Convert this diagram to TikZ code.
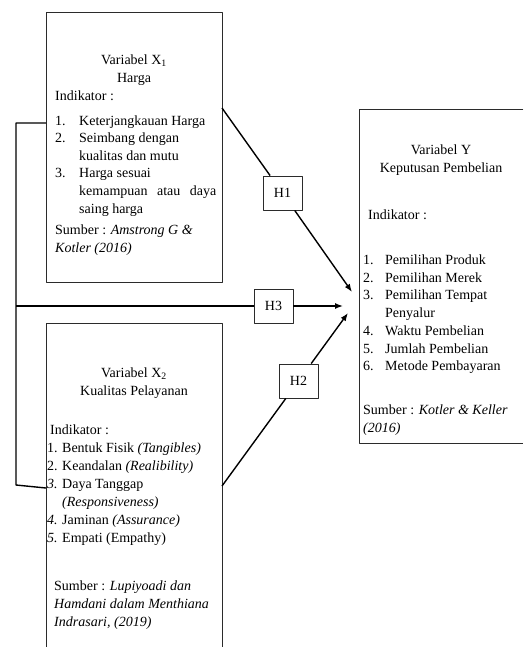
\documentclass[tikz,border=0pt]{standalone}
\usepackage{fontspec}
\setmainfont{Liberation Serif}
\usetikzlibrary{arrows.meta}
\definecolor{frame}{HTML}{2B2B2B}
\tikzset{fig/.style={line join=round,>={Latex[length=8pt,width=6pt]}},
 varbox/.style={inner sep=0pt,anchor=north west},
 hbox/.style={draw=frame,line width=0.9pt,minimum width=39pt,minimum height=34pt,inner sep=0pt},
 rim/.style={frame,line width=0.9pt},
 link/.style={line width=1.4pt},
 txt/.style={anchor=base west,inner sep=0pt}}

\begin{document}
\begin{tikzpicture}[fig,x=1pt,y=-1pt,font=\fontsize{14}{17}\selectfont]
 \useasboundingbox (0,0) rectangle (523,647);
 % boxes of the variables
 \node[varbox,minimum width=176pt,minimum height=270pt] (x1) at (46,12) {};
 \node[varbox,minimum width=176pt,minimum height=324pt] (x2) at (46,323) {};
 \node[varbox,minimum width=164pt,minimum height=334pt] (y) at (359,109) {};
 \draw[rim] (x1.north west) rectangle (x1.south east);
 \draw[rim] (x2.south west) |- (x2.north east) -- (x2.south east);
 \draw[rim] (y.north east) -| (y.south west) -- (y.south east);
 % X1
 \node[anchor=base] (x1a) at (134,64.5) {Variabel X\textsubscript{1}};
 \node[anchor=base] (x1b) at (134,82.5) {Harga};
 \node[txt] (x1c) at (55,101) {Indikator :};
 \foreach \nr/\itm [count=\k from 0] in {1./Keterjangkauan Harga,2./Seimbang dengan,/kualitas dan mutu,3./Harga sesuai,/\makebox[137pt][s]{kemampuan atau daya},/saing harga}
  \node[txt] (x1l\k) at (55,125.5+17.5*\k) {\makebox[24pt][l]{\nr}\itm};
 \node[txt] (x1d) at (55,234) {Sumber : \textit{Amstrong G \&}};
 \node[txt] (x1e) at (55,252) {\textit{Kotler (2016)}};
 % X2
 \node[anchor=base] (x2a) at (134,377.5) {Variabel X\textsubscript{2}};
 \node[anchor=base] (x2b) at (134,395.5) {Kualitas Pelayanan};
 \node[txt] (x2c) at (50,434.5) {Indikator :};
 \foreach \nr/\itm [count=\k from 0] in {1./Bentuk Fisik \textit{(Tangibles)},2./Keandalan \textit{(Realibility)},\textit{3.}/Daya Tanggap,/\textit{(Responsiveness)},\textit{4.}/Jaminan \textit{(Assurance)},\textit{5.}/Empati (Empathy)}
  \node[txt] (x2l\k) at (47,452.5+18*\k) {\makebox[15pt][l]{\nr}\itm};
 \node[txt] (x2d) at (54,590.5) {Sumber : \textit{Lupiyoadi dan}};
 \node[txt] (x2e) at (54,608.5) {\textit{Hamdani dalam Menthiana}};
 \node[txt] (x2f) at (54,626.5) {\textit{Indrasari, (2019)}};
 % Y
 \node[anchor=base] (ya) at (441,154.5) {Variabel Y};
 \node[anchor=base] (yb) at (441,172.5) {Keputusan Pembelian};
 \node[txt] (yc) at (368,219.5) {Indikator :};
 \foreach \nr/\itm [count=\k from 0] in {1./Pemilihan Produk,2./Pemilihan Merek,3./Pemilihan Tempat,/Penyalur,4./Waktu Pembelian,5./Jumlah Pembelian,6./Metode Pembayaran}
  \node[txt] (yl\k) at (363,264.5+17.7*\k) {\makebox[22pt][l]{\nr}\itm};
 \node[txt] (yd) at (363,414.5) {Sumber : \textit{Kotler \& Keller}};
 \node[txt] (ye) at (363,432.5) {\textit{(2016)}};
 % hypotheses
 \node[hbox] (h1) at (282.5,193) {H1};
 \node[hbox] (h2) at (298.5,381) {H2};
 \node[hbox] (h3) at (273.5,306) {H3};
 \coordinate (x1out) at (222,108);
 \coordinate (x2out) at (222,486);
 \coordinate (x1in) at (46,123);
 \coordinate (x2in) at (46,488);
 \coordinate (kt) at (16,123);
 \coordinate (kb) at (16,485);
 \coordinate (brk) at (16,306);
 \coordinate (y1) at (352,292);
 \coordinate (y2) at (348,313);
 \coordinate (y3) at (343,306);
 \draw[link] (x1in) -- (kt) -- (kb) -- (x2in);
 \draw[link] (x1out) -- (h1);
 \draw[link,->] (h1) -- (y1);
 \draw[link] (x2out) -- (h2);
 \draw[link,->] (h2) -- (y2);
 \draw[link] (brk) -- (h3);
 \draw[link,->] (h3) -- (y3);
\end{tikzpicture}
\end{document}
